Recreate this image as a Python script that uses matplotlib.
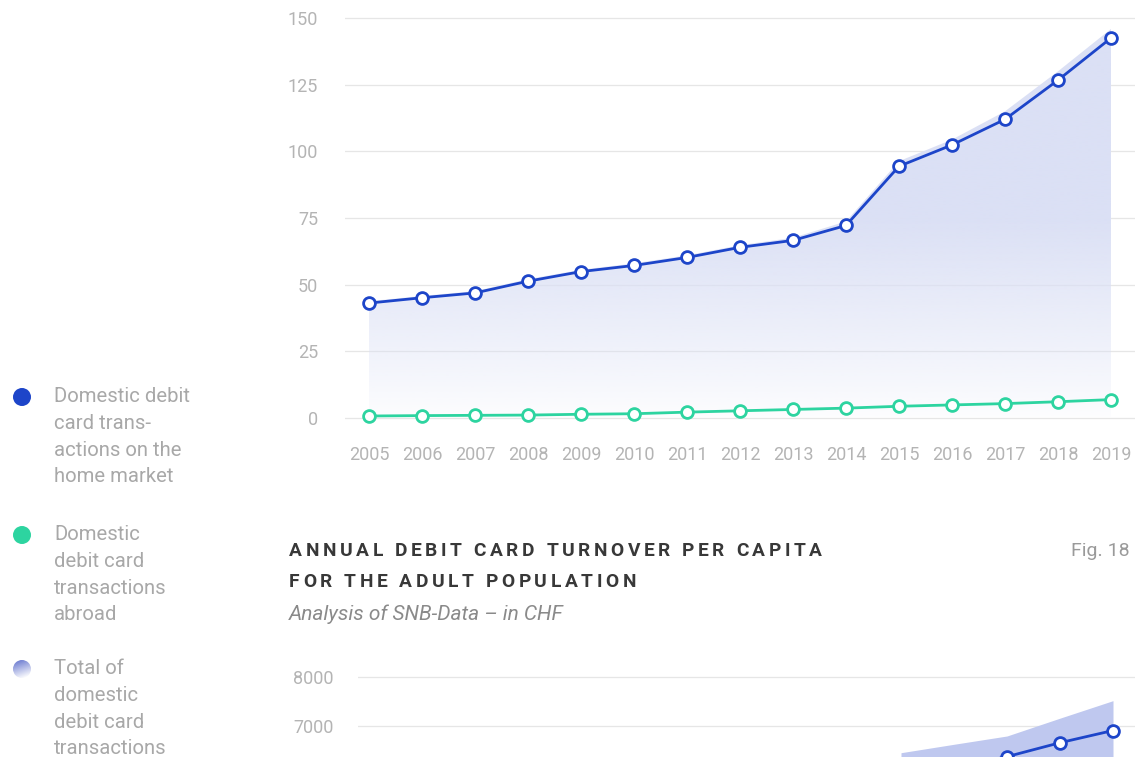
import numpy as np
import matplotlib
matplotlib.use("Agg")
import matplotlib.pyplot as plt
from matplotlib.patches import Circle
from matplotlib.colors import to_rgb
from matplotlib.font_manager import FontProperties

# ---- data -------------------------------------------------------------
years = list(range(2005, 2020))
home_market = [43.1, 45.1, 46.9, 51.3, 54.9, 57.2, 60.2, 64.0, 66.6, 72.2,
               94.4, 102.4, 112.0, 126.7, 142.5]
abroad = [0.75, 0.9, 1.0, 1.1, 1.4, 1.6, 2.2, 2.7, 3.2, 3.7,
          4.4, 4.9, 5.4, 6.1, 6.9]
total = [43.8, 45.8, 47.6, 52.1, 55.6, 58.0, 61.0, 64.8, 67.6, 73.7,
         96.3, 104.4, 115.0, 130.0, 145.9]
top_yticks = [0, 25, 50, 75, 100, 125, 150]

turnover_years = [2015, 2016, 2017, 2018, 2019]
turnover_home = [6020, 6150, 6384, 6669, 6918]
turnover_total = [6465, 6637, 6806, 7170, 7527]
bottom_yticks = [7000, 8000]

legend_labels = [
    ["Domestic debit", "card trans-", "actions on the", "home market"],
    ["Domestic", "debit card", "transactions", "abroad"],
    ["Total of", "domestic", "debit card", "transactions"],
]
title_lines = ["ANNUAL DEBIT CARD TURNOVER PER CAPITA", "FOR THE ADULT POPULATION"]
subtitle = "Analysis of SNB-Data \u2013 in CHF"
fig_label = "Fig. 18"

# ---- style ------------------------------------------------------------
BLUE = "#1d45c9"
GREEN = "#2dd4a0"
FILL = "#dbe0f5"
FILL_SOLID = "#bfc8ef"
GRID = "#e6e6e6"
TICK = "#b4b4b4"
LEGEND_TXT = "#a8a8a8"
FONT = "Roboto"

W, H = 1135, 757
fig = plt.figure(figsize=(W / 100, H / 100), dpi=100)
fig.patch.set_facecolor("white")


def px_axes(left, top, right, bottom):
    return fig.add_axes([left / W, 1 - bottom / H, (right - left) / W, (bottom - top) / H])


def clean(ax):
    for s in ax.spines.values():
        s.set_visible(False)
    ax.tick_params(length=0)
    ax.grid(axis="y", color=GRID, lw=0.9, zorder=0)
    ax.set_axisbelow(True)
    ax.patch.set_alpha(0)


# ---- top chart --------------------------------------------------------
ax = px_axes(345, 5, 1135, 430)
clean(ax)
ax.set_xlim(2004.547, 2019.453)
ax.set_ylim(-4.5, 154.875)

# gradient area for the total
poly = ax.fill_between(years, 0, total, color="none", lw=0)
n = 256
grad = np.zeros((n, 1, 4))
rgb = to_rgb(FILL)
vals = np.linspace(154.875, -4.5, n)
alpha = np.clip(vals / 75.0, 0, 1) ** 0.9
grad[:, 0, :3] = rgb
grad[:, 0, 3] = np.clip(alpha, 0, 1) * 0.95 + 0.05 * (vals > 0)
img = ax.imshow(grad, extent=[2004.547, 2019.453, -4.5, 154.875], aspect="auto",
                origin="upper", zorder=1, interpolation="bilinear")
img.set_clip_path(poly.get_paths()[0], transform=ax.transData)

ax.plot(years, home_market, color=BLUE, lw=2.0, marker="o", ms=8.5, mfc="white",
        mec=BLUE, mew=2.0, zorder=4, clip_on=False)
ax.plot(years, abroad, color=GREEN, lw=2.0, marker="o", ms=8.5, mfc="white",
        mec=GREEN, mew=2.0, zorder=4, clip_on=False)

ax.set_xticks(years)
ax.set_xticklabels([str(y) for y in years])
ax.set_yticks(top_yticks)
ax.tick_params(axis="x", pad=11.5, labelsize=13, labelcolor=TICK)
ax.tick_params(axis="y", pad=19.4, labelsize=13, labelcolor=TICK)
for lab in ax.get_xticklabels() + ax.get_yticklabels():
    lab.set_fontfamily(FONT)

# ---- bottom chart (cut at the page edge) -------------------------------
bx = px_axes(358, 655, 1135, 1000)
clean(bx)
bx.set_xlim(2004.755, 2019.415)
bx.set_ylim(1418, 8459)
bx.fill_between(turnover_years, 0, turnover_total, color=FILL_SOLID, lw=0, zorder=1)
bx.plot(turnover_years, turnover_home, color=BLUE, lw=2.0, marker="o", ms=8.5,
        mfc="white", mec=BLUE, mew=2.0, zorder=4)
bx.set_yticks(bottom_yticks)
bx.set_xticks([])
bx.tick_params(axis="y", pad=17.3, labelsize=13, labelcolor=TICK)
for lab in bx.get_yticklabels():
    lab.set_fontfamily(FONT)

# ---- overlay in pixel coordinates ----------------------------------------
ov = fig.add_axes([0, 0, 1, 1])
ov.set_xlim(0, W)
ov.set_ylim(H, 0)
ov.axis("off")
ov.patch.set_alpha(0)

# legend
legend_y = [397, 535, 669]
ov.add_patch(Circle((22, legend_y[0]), 9, color=BLUE, lw=0))
ov.add_patch(Circle((22, legend_y[1]), 9, color=GREEN, lw=0))
gx, gy = np.meshgrid(np.linspace(0, 1, 60), np.linspace(0, 1, 60))
t = np.clip(gx * 0.3 + gy * 0.85 - 0.05, 0, 1)
c0 = np.array(to_rgb("#6878cf"))
c1 = np.array([1.0, 1.0, 1.0])
gimg = c0[None, None, :] * (1 - t[..., None]) + c1[None, None, :] * t[..., None]
r = 9
cy = legend_y[2]
im2 = ov.imshow(gimg, extent=[22 - r, 22 + r, cy + r, cy - r], origin="upper",
                interpolation="bilinear", zorder=2)
clipc = Circle((22, cy), r, transform=ov.transData, facecolor="none", lw=0)
ov.add_patch(clipc)
im2.set_clip_path(clipc)
ov.set_xlim(0, W)
ov.set_ylim(H, 0)

for base, lines in zip(legend_y, legend_labels):
    for i, line in enumerate(lines):
        ov.text(54, base + i * 26.6, line, fontsize=14.6, color=LEGEND_TXT,
                family=FONT, ha="left", va="center")

# title with letter spacing
renderer = fig.canvas.get_renderer()
tprop = FontProperties(family=FONT, weight="bold", size=13.8)


def text_width(s):
    w, _, _ = renderer.get_text_width_height_descent(s, tprop, ismath=False)
    return w


def prefix_width(s):
    return text_width(s + "H") - text_width("H")


first = title_lines[0]
track = (533 - text_width(first)) / (len(first) - 1)
for line, ty in zip(title_lines, [551, 582]):
    for i, ch in enumerate(line):
        if ch == " ":
            continue
        xpos = 289 + prefix_width(line[:i]) + i * track
        ov.text(xpos, ty, ch, fontproperties=tprop, color="#383838",
                ha="left", va="center")

ov.text(289, 614, subtitle, fontsize=15, style="italic", family=FONT,
        color="#8a8a8a", ha="left", va="center")
ov.text(1130, 551, fig_label, fontsize=14, family=FONT,
        color="#9a9a9a", ha="right", va="center")

fig.savefig("out.png", dpi=100, facecolor="white")
